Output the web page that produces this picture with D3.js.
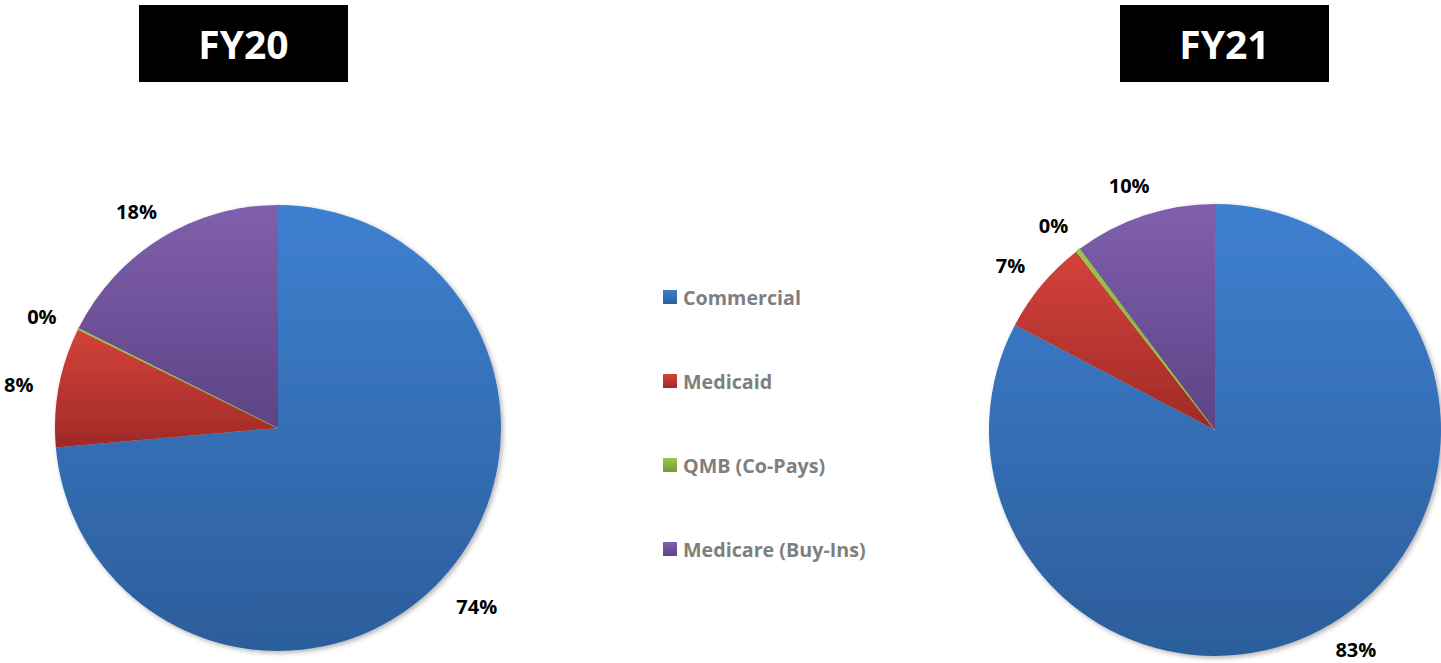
<!DOCTYPE html>
<html>
<head>
<meta charset="utf-8">
<script src="https://cdn.jsdelivr.net/npm/d3@7"></script>
<style>
  html,body{margin:0;padding:0;background:#fff;}
  svg{display:block;font-family:"Open Sans",Lato,sans-serif;}
</style>
</head>
<body>
<svg id="chart" width="1441" height="663"></svg>
<script>
const categories=["Commercial","Medicaid","QMB (Co-Pays)","Medicare (Buy-Ins)"];
const years=["FY20","FY21"];
const fy20Values=[73.6,8.7,0.1,17.6];
const fy21Values=[82.7,6.8,0.3,10.2];
const fy20Labels=["74%","8%","0%","18%"];
const fy21Labels=["83%","7%","0%","10%"];

const colorTop=["#3e80d0","#d4423b","#9bc84a","#8060ad"];
const colorBot=["#2c5d9b","#9f2a27","#76983a","#5d4384"];

const svg=d3.select("#chart");
const W=1441,H=663;
const defs=svg.append("defs");

categories.forEach((c,i)=>{
  const g=defs.append("linearGradient").attr("id","grad"+i)
    .attr("x1",0).attr("y1",0).attr("x2",0).attr("y2",1);
  g.append("stop").attr("offset","0%").attr("stop-color",colorTop[i]);
  g.append("stop").attr("offset","100%").attr("stop-color",colorBot[i]);
});

const shadow=defs.append("filter").attr("id","shadow")
  .attr("x","-10%").attr("y","-10%").attr("width","120%").attr("height","120%");
shadow.append("feDropShadow").attr("dx",2).attr("dy",2).attr("stdDeviation",2.5)
  .attr("flood-color","#000").attr("flood-opacity",0.3);

const pies=[
  {year:years[0],values:fy20Values,labels:fy20Labels,cx:278,cy:428,r:223,boxX:139},
  {year:years[1],values:fy21Values,labels:fy21Labels,cx:1215,cy:430,r:226,boxX:1120}
];

const pie=d3.pie().sort(null).value(d=>d.v);

pies.forEach(p=>{
  // title box
  svg.append("rect").attr("x",p.boxX).attr("y",5).attr("width",209).attr("height",77).attr("fill","#000");
  svg.append("text").attr("x",p.boxX+104.5).attr("y",43)
    .attr("text-anchor","middle").attr("dominant-baseline","central")
    .attr("fill","#fff").attr("font-weight","bold").attr("font-size","39px")
    .text(p.year);

  const data=p.values.map((v,i)=>({v,i,label:p.labels[i]}));
  const arcs=pie(data);
  const arc=d3.arc().innerRadius(0).outerRadius(p.r);
  const g=svg.append("g").attr("transform",`translate(${p.cx},${p.cy})`);

  g.append("g").attr("filter","url(#shadow)")
    .selectAll("path").data(arcs).enter().append("path")
    .attr("d",arc)
    .attr("fill",d=>`url(#grad${d.data.i})`)
    .attr("stroke",d=>d.data.i===2?colorTop[2]:"none")
    .attr("stroke-width",d=>d.data.i===2?1.2:0);

  // outside labels: box pushed out from a point just past the rim
  const gap=26,lh=20;
  g.selectAll("text.lbl").data(arcs).enter().append("text")
    .attr("class","lbl")
    .attr("text-anchor","middle").attr("dominant-baseline","central")
    .attr("font-weight","bold").attr("font-size","20px").attr("fill","#000")
    .text(d=>d.data.label)
    .each(function(d){
      const a=(d.startAngle+d.endAngle)/2;
      const w=this.getComputedTextLength();
      const s=Math.sin(a),c=-Math.cos(a);
      const x=s*(p.r+gap)+s*w/2;
      const y=Math.min(c*(p.r+gap)+c*lh/2+4,H-14-p.cy);
      d3.select(this).attr("x",x).attr("y",y);
    });
});

// legend
const legY=d3.scalePoint().domain(categories).range([297,549]);
const leg=svg.append("g");
categories.forEach((c,i)=>{
  leg.append("rect").attr("x",663).attr("y",legY(c)-7).attr("width",14).attr("height",14)
    .attr("fill",`url(#grad${i})`);
  leg.append("text").attr("x",683).attr("y",legY(c))
    .attr("dominant-baseline","central")
    .attr("font-weight","bold").attr("font-size","19.7px").attr("fill","#7f7f7f")
    .text(c);
});
</script>
</body>
</html>
